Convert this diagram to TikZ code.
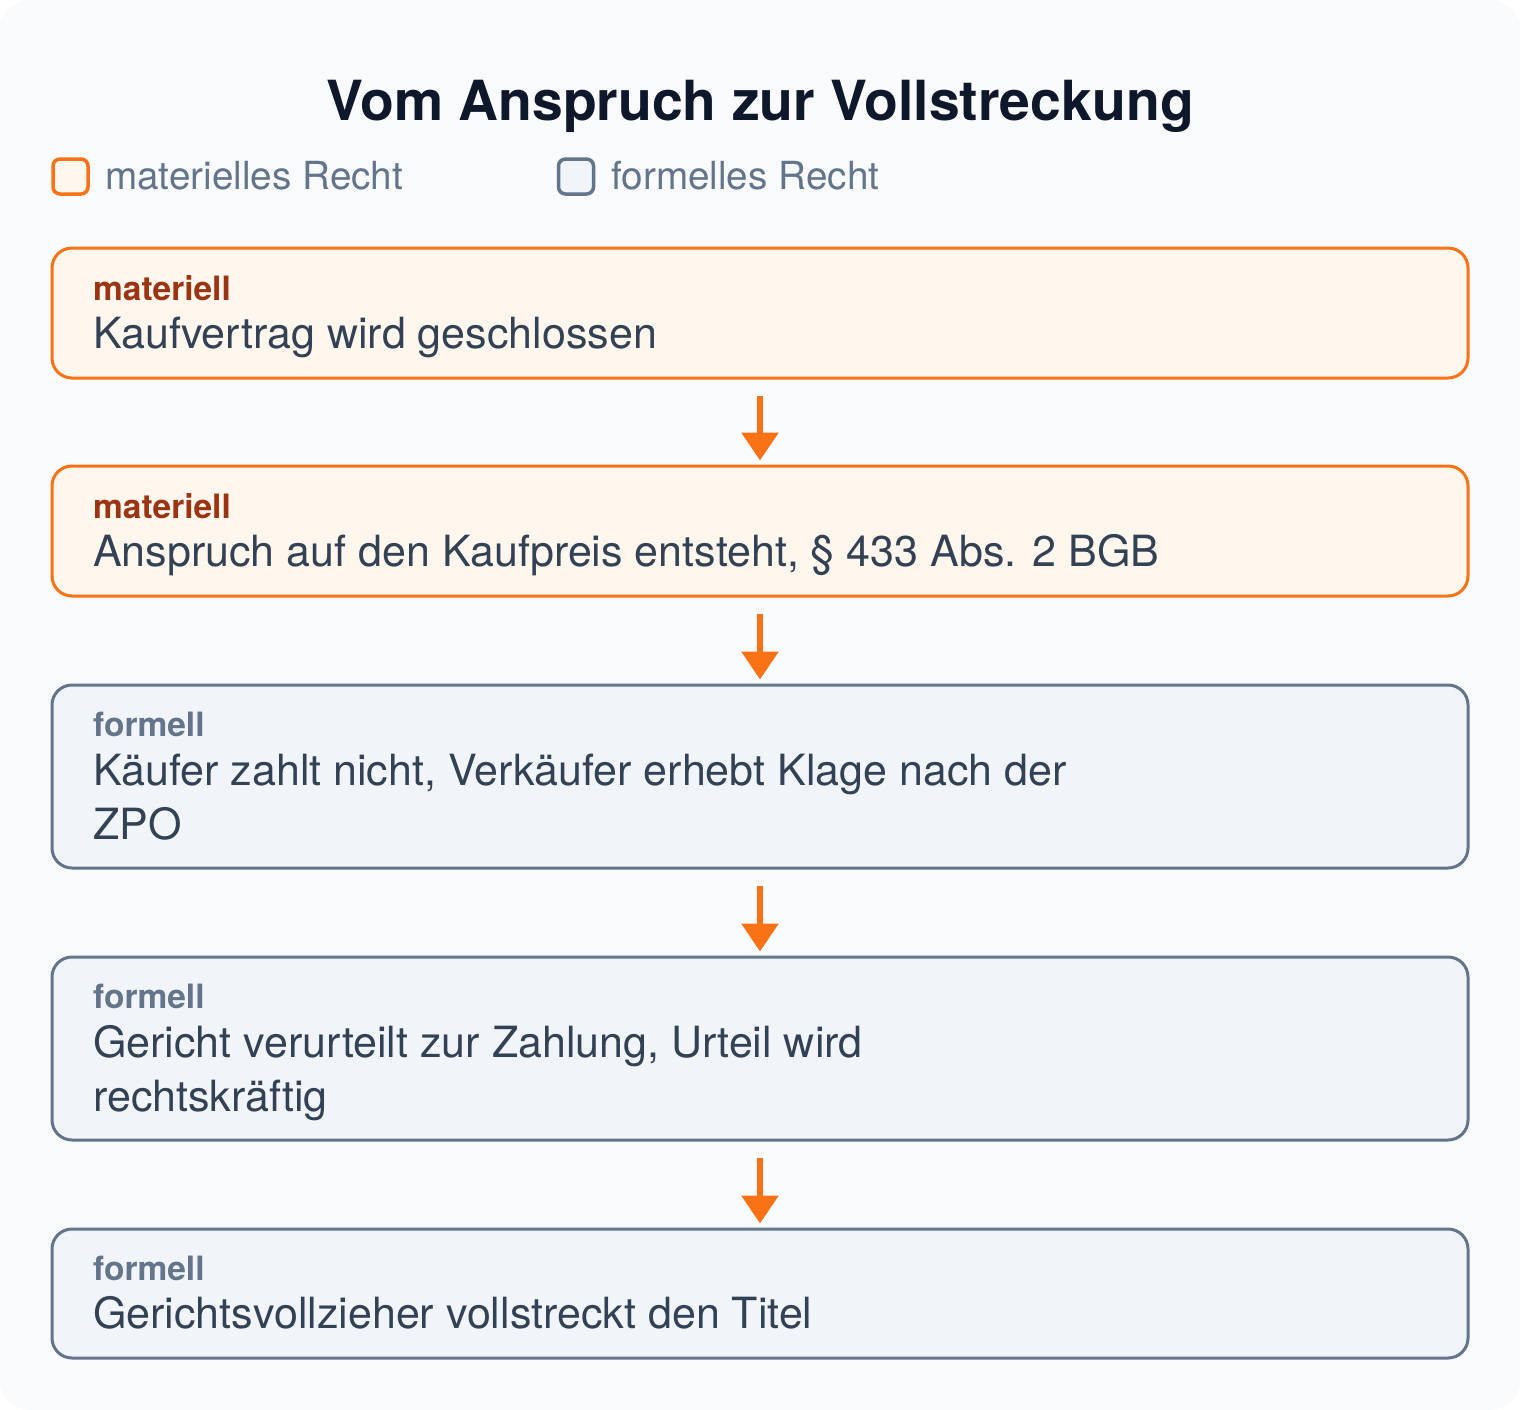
\documentclass[tikz,border=0pt]{standalone}
\usepackage{fontspec}
\setmainfont{TeX Gyre Heros}
\usetikzlibrary{arrows.meta}

\definecolor{bgcol}{HTML}{F8FAFC}
\definecolor{matline}{HTML}{F97316}
\definecolor{matfill}{HTML}{FFF7ED}
\definecolor{matlabel}{HTML}{9A3412}
\definecolor{forline}{HTML}{64748B}
\definecolor{forfill}{HTML}{F1F5F9}
\definecolor{bodytext}{HTML}{334155}
\definecolor{titletext}{HTML}{0F172A}

\tikzset{
  stepbase/.style={rectangle,rounded corners=20pt,line width=3pt,minimum width=1416pt,inner sep=0pt},
  matbox/.style={stepbase,draw=matline,fill=matfill},
  forbox/.style={stepbase,draw=forline,fill=forfill},
  kind/.style={anchor=base west,inner sep=0pt,font=\fontsize{33.5}{38}\selectfont\bfseries},
  body/.style={anchor=base west,inner sep=0pt,align=left,text=bodytext,font=\fontsize{43}{54}\selectfont},
  flow/.style={-{Triangle[width=36pt,length=28pt]},line width=6pt,draw=matline,shorten <=16pt,shorten >=4pt},
  legbox/.style={rectangle,rounded corners=7pt,line width=3.5pt,minimum size=35pt,inner sep=0pt},
  legtext/.style={anchor=base west,inner sep=0pt,text=forline,font=\fontsize{38.7}{44}\selectfont}
}

\begin{document}
\begin{tikzpicture}[x=1pt,y=-1pt]
            \useasboundingbox (0,0) rectangle (1520,1410);
            \fill[white] (0,0) rectangle (1520,1410);
            \fill[bgcol,rounded corners=30pt] (0,0) rectangle (1520,1410);

            % title and legend
            \node (title) at (760,121) [anchor=base,inner sep=0pt,text=titletext,font=\fontsize{55.3}{64}\selectfont\bfseries] {Vom Anspruch zur Vollstreckung};
            \node (legmat) at (70.5,176.5) [legbox,draw=matline,fill=matfill] {};
            \node (legmattext) at (105,189) [legtext] {materielles Recht};
            \node (legfor) at (576,176.5) [legbox,draw=forline,fill=forfill] {};
            \node (legfortext) at (611,189) [legtext] {formelles Recht};

            % steps
            \node (b1) at (760,313) [matbox,minimum height=130pt] {};
            \node (b2) at (760,531) [matbox,minimum height=130pt] {};
            \node (b3) at (760,776.5) [forbox,minimum height=183pt] {};
            \node (b4) at (760,1048.5) [forbox,minimum height=183pt] {};
            \node (b5) at (760,1293.5) [forbox,minimum height=129pt] {};

            \node (k1) at (93,300) [kind,text=matlabel] {materiell};
            \node (t1) at (93,348) [body] {Kaufvertrag wird geschlossen};
            \node (k2) at (93,518) [kind,text=matlabel] {materiell};
            \node (t2) at (93,566) [body] {Anspruch auf den Kaufpreis entsteht, § 433 Abs. 2 BGB};
            \node (k3) at (93,736) [kind,text=forline] {formell};
            \node (t3) at (93,839) [body] {Käufer zahlt nicht, Verkäufer erhebt Klage nach der\\ZPO};
            \node (k4) at (93,1008) [kind,text=forline] {formell};
            \node (t4) at (93,1111) [body] {Gericht verurteilt zur Zahlung, Urteil wird\\rechtskräftig};
            \node (k5) at (93,1280) [kind,text=forline] {formell};
            \node (t5) at (93,1328) [body] {Gerichtsvollzieher vollstreckt den Titel};

            \draw[flow] (b1) -- (b2);
            \draw[flow] (b2) -- (b3);
            \draw[flow] (b3) -- (b4);
            \draw[flow] (b4) -- (b5);

        \end{tikzpicture}
\end{document}
